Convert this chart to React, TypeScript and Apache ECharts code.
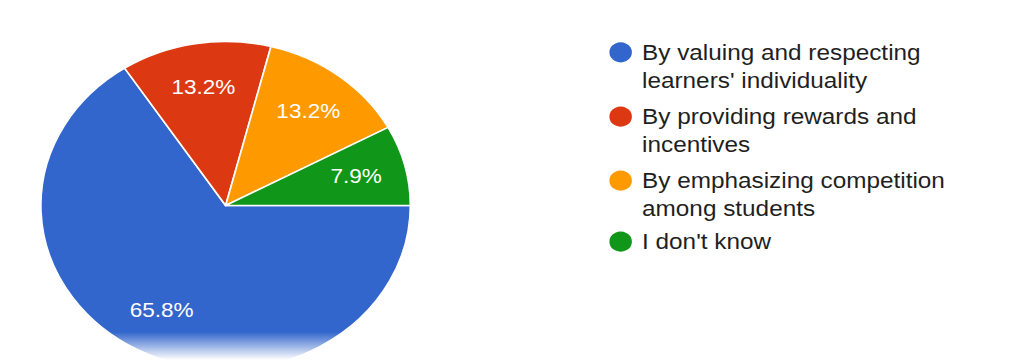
import React, { useEffect, useRef } from "react";
import * as echarts from "echarts";

const categories = [
  "By valuing and respecting\nlearners' individuality",
  "By providing rewards and\nincentives",
  "By emphasizing competition\namong students",
  "I don't know",
];
const counts = [25, 5, 5, 3];
const colors = ["#3366cc", "#dc3912", "#ff9900", "#109618"];
const legendTops = [10.3, 74.7, 138.7, 227.7];

const SCALE_X = 1.1264;
const BASE_W = 910;
const H = 360;
const LH = 28;

export default function App() {
  const ref = useRef<HTMLDivElement>(null);
  useEffect(() => {
    if (!ref.current) return;
    const chart = echarts.init(ref.current, undefined, { renderer: "svg" });
    const total = counts.reduce((a, b) => a + b, 0);
    const data = categories.map((name, i) => ({
      name,
      value: counts[i],
      itemStyle: { color: colors[i] },
    }));
    const legends = categories.map((name, i) => {
      const twoLine = name.indexOf("\n") >= 0;
      return {
        orient: "vertical",
        left: 539,
        top: legendTops[i],
        padding: 0,
        icon: "circle",
        itemWidth: 22,
        itemHeight: 22,
        selectedMode: false,
        data: [name],
        formatter: (n: string) => (twoLine ? "\n" + n : n),
        textStyle: {
          fontSize: 21.6,
          lineHeight: LH,
          padding: [0, 0, 0, 3],
          color: "#1f1f1f",
          fontFamily: "'Liberation Sans', Arial, sans-serif",
        },
      };
    });
    chart.setOption({
      animation: false,
      backgroundColor: "#ffffff",
      legend: legends,
      series: [
        {
          type: "pie",
          center: [200.3, 205.5],
          radius: 164,
          startAngle: 0,
          clockwise: true,
          silent: true,
          label: { show: false },
          labelLine: { show: false },
          itemStyle: { borderColor: "#ffffff", borderWidth: 1.5 },
          data,
        },
        {
          type: "pie",
          center: [200.3, 205.5],
          radius: [69, 164],
          startAngle: 0,
          clockwise: true,
          silent: true,
          itemStyle: { color: "rgba(0,0,0,0)" },
          label: {
            show: true,
            position: "inside",
            formatter: (p: any) => ((p.value / total) * 100).toFixed(1) + "%",
            color: "#ffffff",
            fontSize: 20,
            fontFamily: "'Liberation Sans', Arial, sans-serif",
          },
          labelLine: { show: false },
          data: categories.map((name, i) => ({ name, value: counts[i] })),
        },
      ],
      graphic: [
        {
          type: "rect",
          left: 0,
          top: 332,
          shape: { width: BASE_W, height: 28 },
          style: {
            fill: new echarts.graphic.LinearGradient(0, 0, 0, 1, [
              { offset: 0, color: "rgba(255,255,255,0)" },
              { offset: 1, color: "rgba(255,255,255,1)" },
            ]),
          },
          silent: true,
          z: 100,
        },
      ],
    });
    return () => chart.dispose();
  }, []);
  return (
    <div
      ref={ref}
      style={{
        position: "absolute",
        left: 0,
        top: 0,
        width: BASE_W,
        height: H,
        transform: `scaleX(${SCALE_X})`,
        transformOrigin: "0 0",
      }}
    />
  );
}
